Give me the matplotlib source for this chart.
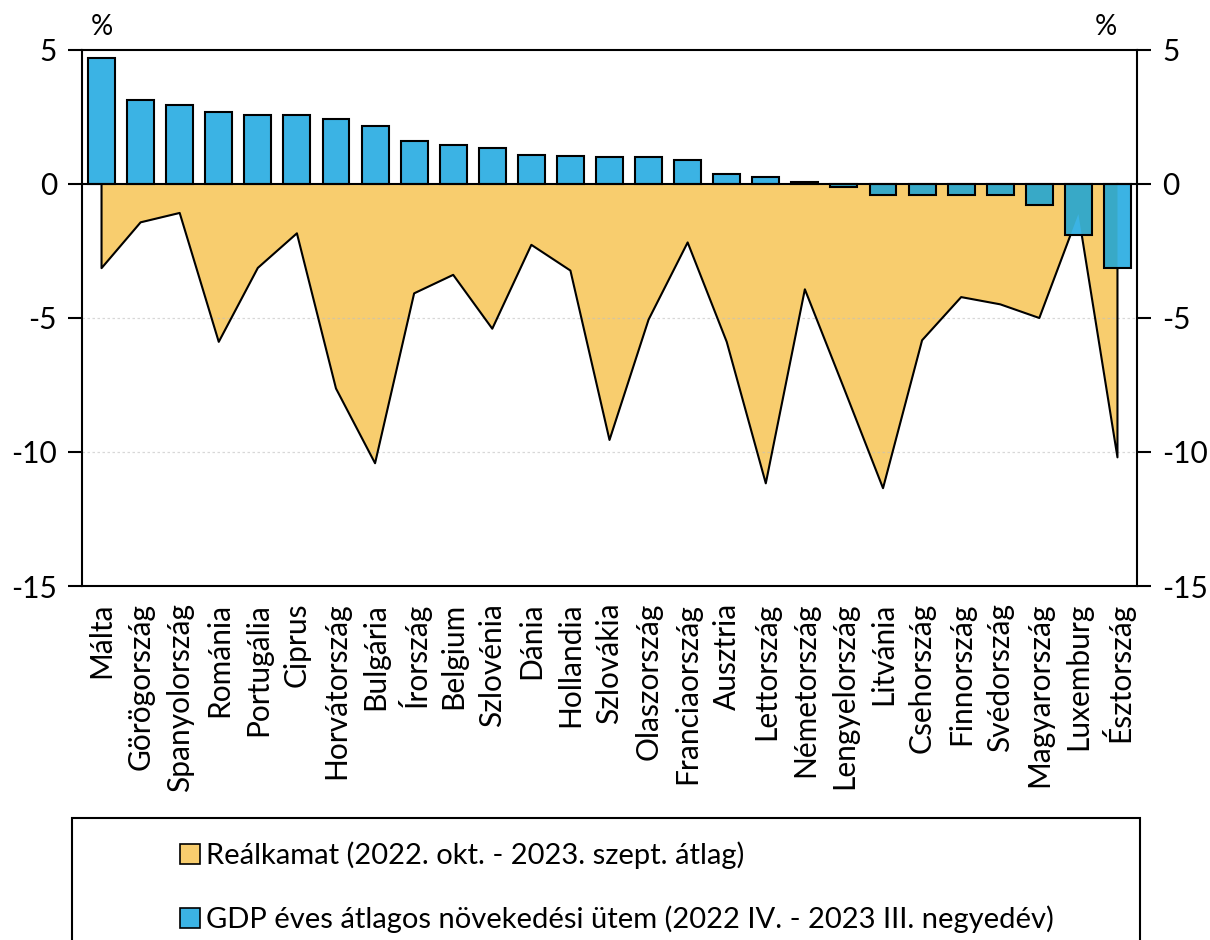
import matplotlib.pyplot as plt
from matplotlib.patches import Rectangle

plt.rcParams['font.family'] = ['Lato', 'DejaVu Sans']

orszagok = ['Málta', 'Görögország', 'Spanyolország', 'Románia', 'Portugália',
            'Ciprus', 'Horvátország', 'Bulgária', 'Írország', 'Belgium',
            'Szlovénia', 'Dánia', 'Hollandia', 'Szlovákia', 'Olaszország',
            'Franciaország', 'Ausztria', 'Lettország', 'Németország',
            'Lengyelország', 'Litvánia', 'Csehország', 'Finnország',
            'Svédország', 'Magyarország', 'Luxemburg', 'Észtország']

# GDP éves átlagos növekedési ütem
gdp = [4.71, 3.15, 2.93, 2.70, 2.59, 2.59, 2.41, 2.18, 1.60, 1.46, 1.35,
       1.10, 1.05, 1.02, 0.99, 0.91, 0.37, 0.25, 0.07, -0.11, -0.40, -0.40,
       -0.42, -0.42, -0.78, -1.91, -3.14]

# Reálkamat
realkamat = [-3.14, -1.43, -1.08, -5.89, -3.13, -1.84, -7.63, -10.42, -4.08,
             -3.39, -5.40, -2.27, -3.23, -9.55, -5.06, -2.18, -5.89, -11.17,
             -3.93, -7.62, -11.35, -5.83, -4.22, -4.49, -5.0, -1.12, -10.2]

sarga = '#f8cd6e'
kek = '#3bb3e4'
kekes_zold = '#38a9c7'

fig = plt.figure(figsize=(12.1, 9.4), dpi=100)
ax = fig.add_axes([82/1210, 354/940, (1137-82)/1210, 536/940])

x = list(range(len(orszagok)))

# terulet (reálkamat)
terulet = ax.fill_between(x, realkamat, 0, color=sarga, lw=0, zorder=1)
ax.plot([x[0]] + x + [x[-1]], [0] + realkamat + [0], color='black',
        lw=1.5, zorder=1.5)

# oszlopok (GDP)
ax.bar(x, gdp, width=0.69, color=kek, lw=0, zorder=2)
fedes = ax.bar(x, gdp, width=0.69, color=kekes_zold, lw=0, zorder=3)
ut = terulet.get_paths()[0]
for b in fedes:
    b.set_clip_path(ut, ax.transData)
ax.bar(x, gdp, width=0.69, fill=False, edgecolor='black', lw=1.5, zorder=4)

ax.axhline(0, color='black', lw=1.5, zorder=5)
for y in [-5, -10]:
    ax.axhline(y, color='#bfbfbf', lw=0.9, ls=(0, (2, 2)), alpha=0.6, zorder=1.2)

ax.set_xlim(-0.5, len(orszagok) - 0.5)
ax.set_ylim(-15, 5)
ax.set_yticks([5, 0, -5, -10, -15])
ax.set_yticklabels(['5', '0', '-5', '-10', '-15'])
ax.set_xticks(x)
ax.set_xticklabels(orszagok, rotation=90)
ax.tick_params(axis='x', length=0, pad=12, labelsize=21.5)
ax.tick_params(axis='y', direction='out', length=10, width=1.5, pad=8,
               labelsize=21.5, left=True, right=True, labelleft=True,
               labelright=True)
for s in ax.spines.values():
    s.set_linewidth(1.5)

fig.text(102/1210, 1 - 27/940, '%', fontsize=20, ha='center', va='center')
fig.text(1106/1210, 1 - 27/940, '%', fontsize=20, ha='center', va='center')

# jelmagyarazat
fig.patches.append(Rectangle((72/1210, -0.05), (1140-72)/1210, 0.05 + 1 - 818/940,
                             transform=fig.transFigure, fill=False,
                             edgecolor='black', lw=1.5))
h1 = Rectangle((0, 0), 1, 1, facecolor=sarga, edgecolor='black', lw=1.2)
h2 = Rectangle((0, 0), 1, 1, facecolor=kek, edgecolor='black', lw=1.2)
fig.legend([h1, h2],
           ['Reálkamat (2022. okt. - 2023. szept. átlag)',
            'GDP éves átlagos növekedési ütem (2022 IV. - 2023 III. negyedév)'],
           loc='upper left', bbox_to_anchor=(165/1210, 1 - 827/940),
           frameon=False, fontsize=21, handlelength=0.7, handleheight=0.7,
           handletextpad=0.2, labelspacing=1.25, borderpad=0)

fig.savefig('out.png', dpi=100)
